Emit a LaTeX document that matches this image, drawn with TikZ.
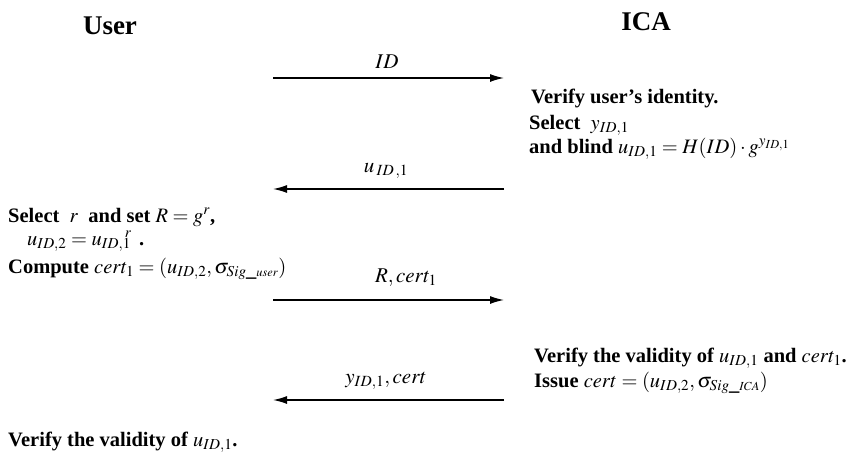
\documentclass[tikz,border=0pt]{standalone}
\usepackage{mathptmx}
\usepackage[no-math]{fontspec}
\setmainfont{Liberation Serif}
\usetikzlibrary{arrows.meta}
\tikzset{
  txt/.style={anchor=base west, inner sep=0pt, font=\fontsize{20.5}{24}\selectfont\bfseries},
  head/.style={anchor=base, inner sep=0pt, font=\fontsize{27}{30}\selectfont\bfseries},
  lbl/.style={anchor=base, inner sep=0pt, font=\fontsize{21}{24}\selectfont},
  msg/.style={line width=1.4pt, -{Latex[length=14pt,width=8pt]}}
}
\begin{document}
\begin{tikzpicture}[x=1pt,y=-1pt]
\useasboundingbox (0,0) rectangle (856,460);
% headings
\node[head] (user) at (110,35) {User};
\node[head] (ica) at (646,31) {ICA};
% arrow endpoints
\coordinate (a1s) at (273,78);  \coordinate (a1e) at (504,78);
\coordinate (a2s) at (504,189); \coordinate (a2e) at (273,189);
\coordinate (a3s) at (273,300); \coordinate (a3e) at (504,300);
\coordinate (a4s) at (504,400); \coordinate (a4e) at (273,400);
\draw[msg] (a1s) -- (a1e);
\draw[msg] (a2s) -- (a2e);
\draw[msg] (a3s) -- (a3e);
\draw[msg] (a4s) -- (a4e);
% labels
\node[lbl] (l1) at (387,68) {$ID$};
\node[lbl] (l2) at (386,172) {$u\,_{ID\,,1}$};
\node[lbl] (l3) at (406,282) {$R,cert_1$};
\node[lbl] (l4) at (386,383) {$y_{ID,1},cert$};
% ICA side
\node[txt] (t1) at (531,103) {Verify user's identity.};
\node[txt] (t2) at (529,129) {Select \ $y_{ID,1}$};
\node[txt] (t3) at (529,153) {and blind $u_{ID,1}=H(ID)\cdot g^{y_{ID,1}}$};
\node[txt] (t7) at (534,362) {Verify the validity of $u_{ID,1}$ and $cert_1$.};
\node[txt] (t8) at (534,387) {Issue $cert=(u_{ID,2},\sigma_{Sig\_{\scriptscriptstyle ICA}})$};
% User side
\node[txt] (t4) at (8,222) {Select \ $r$ \ and set $R=g^r$,};
\node[txt] (t5) at (27,245) {$u_{ID,2}=u_{ID,1}\hspace{-6pt}{}^{r}\ \,$.};
\node[txt] (t6) at (8,273) {Compute $cert_1=(u_{ID,2},\sigma_{Sig\_{\scriptscriptstyle user}})$};
\node[txt] (t9) at (8,446) {Verify the validity of $u_{ID,1}$.};
\end{tikzpicture}
\end{document}
